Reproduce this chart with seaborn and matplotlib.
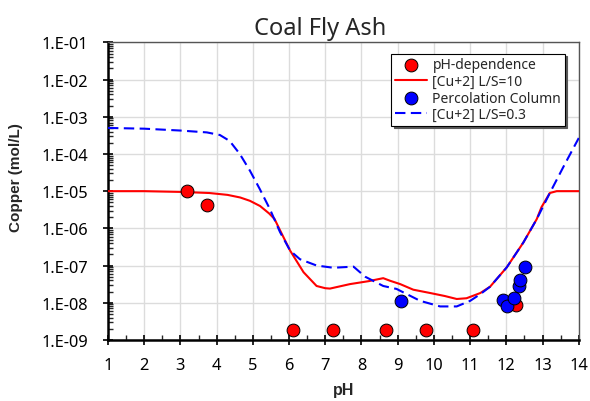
import numpy as np
import pandas as pd
import matplotlib
matplotlib.use("Agg")
import matplotlib.pyplot as plt
import seaborn as sns
from matplotlib.ticker import FixedLocator, FuncFormatter, LogLocator, NullFormatter, MultipleLocator

# ---- data ----
ph_dep_ph = [3.17, 3.73, 6.12, 7.20, 8.67, 9.77, 11.08, 12.26]
ph_dep_cu = [1.0e-5, 4.2e-6, 1.8e-9, 1.8e-9, 1.8e-9, 1.8e-9, 1.8e-9, 8.7e-9]

perc_ph = [9.08, 11.92, 12.01, 12.22, 12.34, 12.38, 12.51]
perc_cu = [1.1e-8, 1.2e-8, 8.1e-9, 1.35e-8, 2.8e-8, 4.2e-8, 9.3e-8]

ls10_ph = [1.0, 2.0, 3.0, 3.8, 4.3, 4.65, 4.92, 5.2, 5.45, 5.6, 5.75, 6.03,
           6.4, 6.76, 7.0, 7.13, 7.68, 8.2, 8.6, 8.79, 9.07, 9.43, 9.9, 10.3,
           10.63, 10.9, 11.28, 11.55, 12.01, 12.47, 12.84, 12.97, 13.2, 13.39, 14.0]
ls10_log = [-5.0, -5.0, -5.02, -5.05, -5.1, -5.17, -5.26, -5.4, -5.6, -5.75, -6.05, -6.6,
            -7.18, -7.55, -7.61, -7.62, -7.5, -7.42, -7.34, -7.41, -7.5, -7.65, -7.74, -7.82,
            -7.9, -7.88, -7.74, -7.57, -7.05, -6.38, -5.75, -5.43, -5.05, -5.0, -5.0]

ls03_ph = [1.0, 2.0, 3.0, 3.73, 4.09, 4.36, 4.64, 4.92, 5.19, 5.47, 5.75, 6.03,
           6.3, 6.76, 7.22, 7.78, 8.1, 8.6, 8.97, 9.07, 9.62, 10.17, 10.63, 11.0,
           11.28, 11.55, 12.01, 12.47, 12.84, 13.2, 13.6, 14.0]
ls03_log = [-3.3, -3.32, -3.37, -3.42, -3.49, -3.65, -4.0, -4.45, -4.94, -5.48, -6.1, -6.6,
            -6.83, -7.0, -7.06, -7.03, -7.3, -7.55, -7.63, -7.68, -7.95, -8.1, -8.1, -7.95,
            -7.77, -7.57, -7.05, -6.38, -5.75, -5.05, -4.3, -3.57]

ls10_cu = [10 ** v for v in ls10_log]
ls03_cu = [10 ** v for v in ls03_log]

title = "Coal Fly Ash"
xlabel = "pH"
ylabel = "Copper (mol/L)"

# ---- style ----
sns.set_style("white")
plt.rcParams['font.family'] = ['Noto Sans', 'DejaVu Sans']

fig = plt.figure(figsize=(5.90, 4.02), dpi=100)
ax = fig.add_axes([0.183, 0.152, 0.798, 0.740])

df10 = pd.DataFrame({"pH": ls10_ph, "Cu": ls10_cu})
df03 = pd.DataFrame({"pH": ls03_ph, "Cu": ls03_cu})
dfd = pd.DataFrame({"pH": ph_dep_ph, "Cu": ph_dep_cu})
dfp = pd.DataFrame({"pH": perc_ph, "Cu": perc_cu})

sns.scatterplot(data=dfd, x="pH", y="Cu", ax=ax, color="red", edgecolor="black",
                linewidth=0.7, s=85, zorder=4, label="pH-dependence")
sns.lineplot(data=df10, x="pH", y="Cu", ax=ax, color="red", linewidth=1.5,
             zorder=3, label="[Cu+2] L/S=10", sort=False)
sns.scatterplot(data=dfp, x="pH", y="Cu", ax=ax, color="blue", edgecolor="black",
                linewidth=0.7, s=85, zorder=5, label="Percolation Column")
sns.lineplot(data=df03, x="pH", y="Cu", ax=ax, color="blue", linewidth=1.5,
             zorder=3, label="[Cu+2] L/S=0.3", sort=False)
ax.lines[-1].set_dashes([5, 2.6])

ax.set_yscale("log")
ax.set_xlim(1, 14)
ax.set_ylim(1e-9, 1e-1)
ax.xaxis.set_major_locator(MultipleLocator(1))
ax.xaxis.set_minor_locator(MultipleLocator(0.5))
ax.yaxis.set_major_locator(FixedLocator([10.0 ** k for k in range(-9, 0)]))
ax.yaxis.set_minor_locator(LogLocator(base=10, subs=np.arange(2, 10), numticks=20))
ax.yaxis.set_minor_formatter(NullFormatter())
ax.yaxis.set_major_formatter(FuncFormatter(lambda v, p: "1.E-%02d" % int(round(-np.log10(v)))))

ax.grid(True, which="major", color="#dcdcdc", linewidth=1.0)
ax.set_axisbelow(True)

for s in ["left", "bottom"]:
    ax.spines[s].set_color("black")
    ax.spines[s].set_linewidth(1.8)
for s in ["top", "right"]:
    ax.spines[s].set_color("#555555")
    ax.spines[s].set_linewidth(1.0)

ax.tick_params(axis="both", which="major", direction="inout", length=7, width=1.2,
               labelsize=11.8, colors="black", left=True, bottom=True)
ax.tick_params(axis="x", which="major", pad=9)
ax.tick_params(axis="y", which="major", pad=11)
ax.tick_params(axis="both", which="minor", direction="in", length=3.5, width=1.0,
               left=True, bottom=True)

ax.set_title(title, fontsize=17, pad=6, x=0.45)
ax.set_xlabel(xlabel, fontsize=11.5, fontweight="bold", labelpad=6,
              family=["Liberation Sans", "DejaVu Sans"])
ax.set_ylabel(ylabel, fontsize=11, fontweight="bold",
              family=["Liberation Sans", "DejaVu Sans"])
ax.yaxis.set_label_coords(-0.18, 0.548)

leg = ax.legend(loc="upper right", bbox_to_anchor=(0.970, 0.962), frameon=True,
                fancybox=False, edgecolor="black", fontsize=10, borderpad=0.25,
                labelspacing=0.12, handlelength=2.3, handletextpad=0.4,
                borderaxespad=0.0, shadow={"color": "0.35", "alpha": 1.0})
leg.get_frame().set_linewidth(0.8)

fig.savefig("out.png", dpi=100)
